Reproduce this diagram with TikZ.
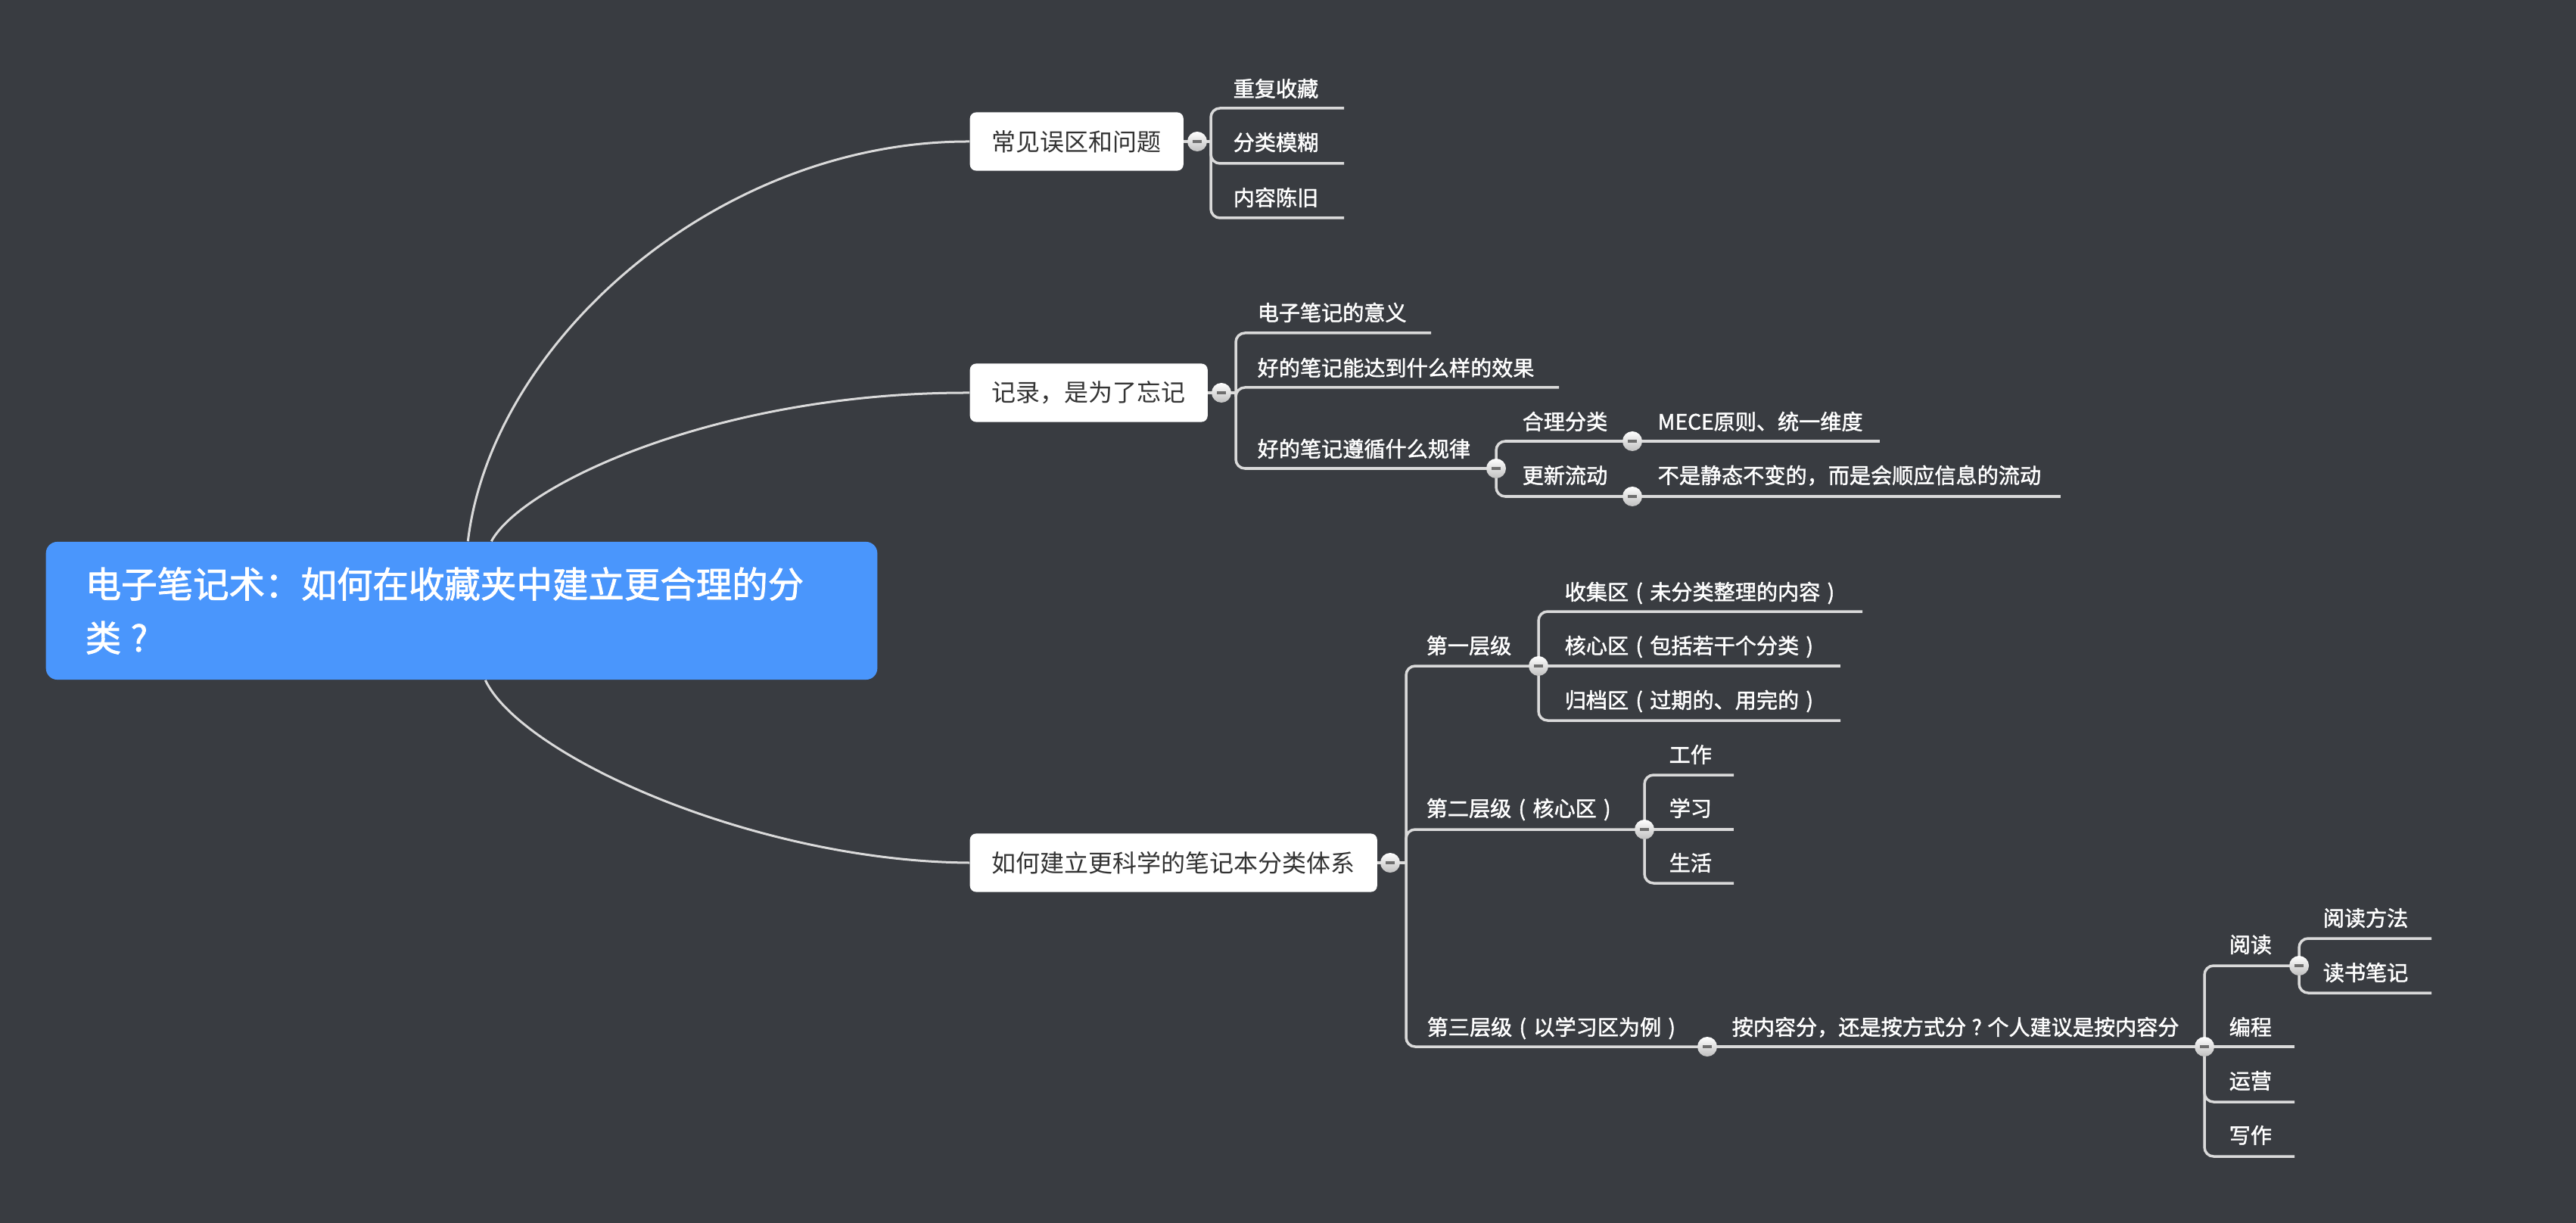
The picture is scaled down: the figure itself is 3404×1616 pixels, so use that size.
\documentclass[tikz,border=0pt]{standalone}
\usepackage{fontspec}
\newfontfamily\cjk{Noto Sans CJK SC}
\newfontfamily\cjkm[FakeBold=1.6]{Noto Sans CJK SC}
\usetikzlibrary{backgrounds}
\definecolor{bgc}{HTML}{393C41}
\definecolor{rootc}{HTML}{4A96FC}
\definecolor{linec}{HTML}{DADADA}
\definecolor{nodetext}{HTML}{333333}
\definecolor{minusc}{HTML}{6E6E6E}
\newcommand\lpar{\makebox[1em]{(}}
\newcommand\rpar{\makebox[1em]{)}}
\newcommand\qmark{\makebox[1em]{?}}
\begin{document}
\begin{tikzpicture}[x=0.01cm,y=-0.01cm,
  rootbox/.style={rounded corners=0.15cm, fill=rootc, text=white,
    font=\cjkm\fontsize{13.5pt}{20.2pt}\selectfont, align=left,
    text width=9.94cm, inner xsep=0.52cm, inner ysep=0, minimum width=10.98cm, minimum height=1.82cm},
  topbox/.style={rounded corners=0.08cm, fill=white, text=nodetext,
    font=\cjk\fontsize{9.1pt}{11pt}\selectfont, inner xsep=0.29cm, inner ysep=0,
    minimum height=0.77cm, anchor=west},
  leaf/.style={anchor=west, text=white, font=\cjkm\fontsize{8pt}{10pt}\selectfont,
    inner sep=0, text height=7.04pt, text depth=0.96pt},
  conn/.style={draw=linec, line width=0.035cm, rounded corners=0.12cm},
  curve/.style={draw=linec, line width=0.03cm},
  collapse/.style={circle, minimum size=0.26cm, inner sep=0, top color=white, bottom color=black!25,
    path picture={\fill[minusc] ([xshift=-0.06cm,yshift=-0.016cm]path picture bounding box.center)
      rectangle ([xshift=0.06cm,yshift=0.016cm]path picture bounding box.center);}}
]
\useasboundingbox (0,0) rectangle (3404,1616);

% root
\node[rootbox] (root) at (610,807) {电子笔记术：如何在收藏夹中建立更合理的分\\类\qmark};

% level 1
\node[topbox] (n1) at (1281,187) {常见误区和问题};
\node[topbox] (n2) at (1281,519) {记录，是为了忘记};
\node[topbox] (n3) at (1281,1140) {如何建立更科学的笔记本分类体系};

% group 1
\coordinate (j1) at (1600,187);
\node[leaf] (a1) at (1629,117) {重复收藏}; \coordinate (a1e) at (1776,143);
\node[leaf] (a2) at (1629,188) {分类模糊}; \coordinate (a2e) at (1776,216);
\node[leaf] (a3) at (1629,261) {内容陈旧}; \coordinate (a3e) at (1776,288);

% group 2
\coordinate (j2) at (1633,519);
\node[leaf] (b1) at (1661,413) {电子笔记的意义}; \coordinate (b1e) at (1891,440);
\node[leaf] (b2) at (1661,486) {好的笔记能达到什么样的效果}; \coordinate (b2e) at (2060,512);
\node[leaf] (b3) at (1661,593) {好的笔记遵循什么规律};
\node[leaf] (b31) at (2011,557) {合理分类};
\node[leaf] (b32) at (2011,628) {更新流动};
\node[leaf] (b311) at (2190,557) {MECE原则、统一维度}; \coordinate (b311e) at (2484,583);
\node[leaf] (b321) at (2190,628) {不是静态不变的，而是会顺应信息的流动}; \coordinate (b321e) at (2723,656);

% group 3
\coordinate (j3) at (1858,1140);
\node[leaf] (d1) at (1884,853) {第一层级};
\node[leaf] (d11) at (2067,782) {收集区\lpar 未分类整理的内容\rpar}; \coordinate (d11e) at (2461,808);
\node[leaf] (d12) at (2067,853) {核心区\lpar 包括若干个分类\rpar}; \coordinate (d12e) at (2432,880);
\node[leaf] (d13) at (2067,925) {归档区\lpar 过期的、用完的\rpar}; \coordinate (d13e) at (2432,952);
\node[leaf] (d2) at (1884,1068) {第二层级\lpar 核心区\rpar};
\node[leaf] (d21) at (2205,997) {工作}; \coordinate (d21e) at (2291,1024);
\node[leaf] (d22) at (2205,1068) {学习}; \coordinate (d22e) at (2291,1096);
\node[leaf] (d23) at (2205,1140) {生活}; \coordinate (d23e) at (2291,1167);
\node[leaf] (d3) at (1885,1357) {第三层级\lpar 以学习区为例\rpar};
\node[leaf] (d31) at (2288,1357) {按内容分，还是按方式分\qmark 个人建议是按内容分};
\node[leaf] (d311) at (2945,1248) {阅读};
\node[leaf] (d3111) at (3069,1213) {阅读方法}; \coordinate (d3111e) at (3213,1240);
\node[leaf] (d3112) at (3069,1285) {读书笔记}; \coordinate (d3112e) at (3213,1312);
\node[leaf] (d312) at (2945,1357) {编程}; \coordinate (d312e) at (3032,1383);
\node[leaf] (d313) at (2945,1428) {运营}; \coordinate (d313e) at (3032,1456);
\node[leaf] (d314) at (2945,1500) {写作}; \coordinate (d314e) at (3032,1528);

% collapse buttons
\node[collapse] (c1) at (1582,187) {};
\node[collapse] (c2) at (1614,519) {};
\node[collapse] (c3) at (1837,1140) {};
\node[collapse] (c21) at (1977,619) {};
\node[collapse] (c211) at (2157,583) {};
\node[collapse] (c212) at (2157,656) {};
\node[collapse] (c31) at (2033,880) {};
\node[collapse] (c32) at (2173,1096) {};
\node[collapse] (c33) at (2256,1383) {};
\node[collapse] (c331) at (2913,1383) {};
\node[collapse] (c3311) at (3038,1276) {};

\begin{scope}[on background layer]
\fill[bgc] (0,0) rectangle (3404,1616);
% root curves
\draw[curve] ([xshift=5.58cm]root.north west) .. controls (650,450) and (950,186) .. (n1.west);
\draw[curve] ([xshift=5.89cm]root.north west) .. controls (690,640) and (950,518) .. (n2.west);
\draw[curve] ([xshift=5.81cm]root.south west) .. controls (690,1000) and (1000,1138) .. (n3.west);
% group 1
\draw[conn] (n1.east) -- (c1.center) -- (j1);
\draw[conn] (j1) |- (a1e);
\draw[conn] (j1) |- (a2e);
\draw[conn] (j1) |- (a3e);
% group 2
\draw[conn] (n2.east) -- (c2.center) -- (j2);
\draw[conn] (j2) |- (b1e);
\draw[conn] (j2) |- (b2e);
\draw[conn] (j2) |- (c21.center);
\draw[conn] (c21.center) |- (c211.center);
\draw[conn] (c21.center) |- (c212.center);
\draw[conn] (c211.center) -- (b311e);
\draw[conn] (c212.center) -- (b321e);
% group 3
\draw[conn] (n3.east) -- (c3.center) -- (j3);
\draw[conn] (j3) |- (c31.center);
\draw[conn] (j3) |- (c32.center);
\draw[conn] (j3) |- (c33.center);
\draw[conn] (c31.center) |- (d11e);
\draw[conn] (c31.center) -- (d12e);
\draw[conn] (c31.center) |- (d13e);
\draw[conn] (c32.center) |- (d21e);
\draw[conn] (c32.center) -- (d22e);
\draw[conn] (c32.center) |- (d23e);
\draw[conn] (c33.center) -- (c331.center);
\draw[conn] (c331.center) |- (c3311.center);
\draw[conn] (c331.center) -- (d312e);
\draw[conn] (c331.center) |- (d313e);
\draw[conn] (c331.center) |- (d314e);
\draw[conn] (c3311.center) |- (d3111e);
\draw[conn] (c3311.center) |- (d3112e);
\end{scope}
\end{tikzpicture}
\end{document}
